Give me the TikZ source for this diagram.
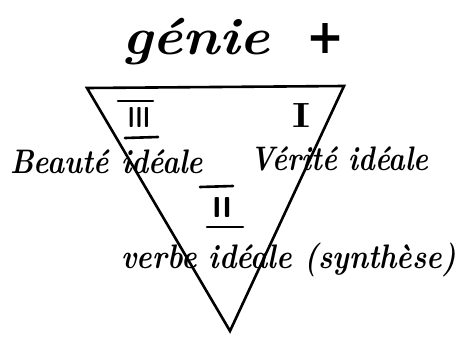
\documentclass[tikz,border=0pt]{standalone}
\usepackage{graphicx}
\usepackage{fontspec}
\newfontfamily\plusfont{DejaVu Sans}
\tikzset{
  lbl/.style={anchor=base west, inner sep=0pt},
  tri/.style={line width=2.6pt, line join=miter},
  bar/.style={line width=2.6pt, line cap=round},
}
\newcommand{\hw}[3]{\resizebox{#1}{\height}{\fontsize{#2}{#2}\selectfont\bfseries\itshape #3}}
\begin{document}
\begin{tikzpicture}[x=1pt,y=-1pt]
\useasboundingbox (0,0) rectangle (467,338);
% triangle
\coordinate (tl) at (87,88);
\coordinate (tr) at (344,86);
\coordinate (bt) at (230,331);
\draw[tri] (tl) -- (tr) -- (bt) -- cycle;
% title
\node[lbl] (genie) at (122,54) {\hw{148pt}{52}{génie}};
\node[inner sep=0pt] (plus) at (325,38) {\resizebox{38pt}{30pt}{\plusfont\bfseries +}};
% numerals
\node[inner sep=0pt] (iii) at (139,117) {\resizebox{22pt}{20pt}{\sffamily\bfseries III}};
\node[inner sep=0pt] (i) at (302,115) {\resizebox{18pt}{24pt}{\fontsize{20}{20}\selectfont\bfseries I}};
\node[inner sep=0pt] (ii) at (222,207) {\resizebox{20pt}{20pt}{\sffamily\bfseries II}};
\coordinate (iiitl) at (118,101); \coordinate (iiitr) at (153,101);
\coordinate (iiibl) at (125,138); \coordinate (iiibr) at (158,137);
\coordinate (iitl) at (200,187); \coordinate (iitr) at (233,186);
\coordinate (iibl) at (207,227); \coordinate (iibr) at (243,227);
\draw[bar] (iiitl) -- (iiitr);
\draw[bar] (iiibl) -- (iiibr);
\draw[bar] (iitl) -- (iitr);
\draw[bar] (iibl) -- (iibr);
% labels
\node[lbl] (beaute) at (10,173) {\hw{193pt}{34}{Beauté idéale}};
\node[lbl] (verite) at (250,170) {\hw{178pt}{34}{Vérité idéale}};
\node[lbl] (verbe) at (121,268) {\hw{335pt}{34}{verbe idéale (synthèse)}};
\end{tikzpicture}
\end{document}
